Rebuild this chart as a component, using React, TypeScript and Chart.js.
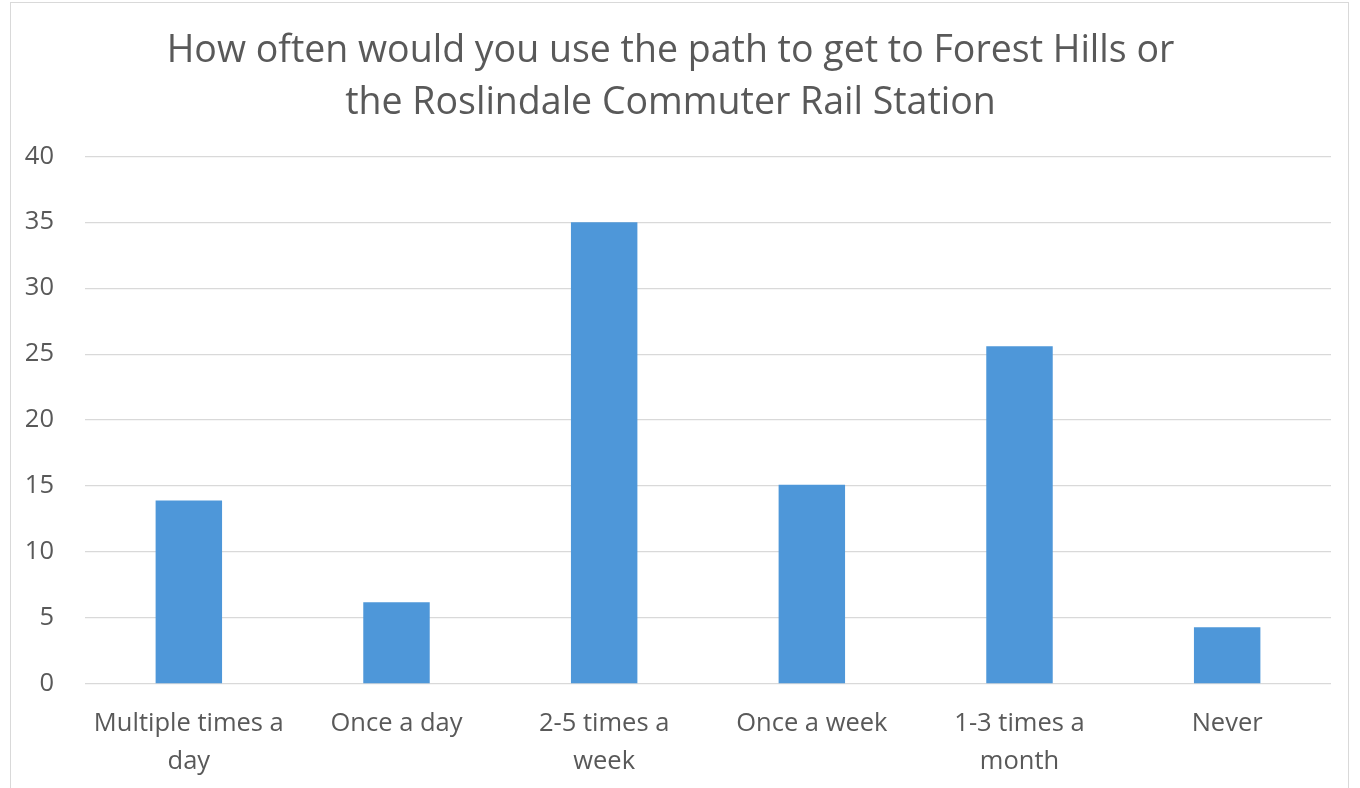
import React, { useEffect, useRef } from "react";
import { Chart, registerables } from "chart.js";

Chart.register(...registerables);

const titleLines = [
  "How often would you use the path to get to Forest Hills or",
  "the Roslindale Commuter Rail Station",
];
const categories = [
  ["Multiple times a", "day"],
  "Once a day",
  ["2-5 times a", "week"],
  "Once a week",
  ["1-3 times a", "month"],
  "Never",
];
const responses = [13.9, 6.2, 35, 15.1, 25.6, 4.3];
const yTicks = [0, 5, 10, 15, 20, 25, 30, 35, 40];

const FONT = "'Open Sans', Lato, sans-serif";
const TEXT = "#595959";

export default function App() {
  const ref = useRef<HTMLCanvasElement | null>(null);
  useEffect(() => {
    if (!ref.current) return;
    const chart = new Chart(ref.current, {
      type: "bar",
      data: {
        labels: categories as any,
        datasets: [
          {
            data: responses,
            backgroundColor: "#4e97d9",
            borderWidth: 0,
            barPercentage: 0.64,
            categoryPercentage: 0.5,
          },
        ],
      },
      options: {
        responsive: false,
        animation: false,
        layout: { padding: { left: 10, right: 29, top: 0, bottom: 0 } },
        plugins: {
          legend: { display: false },
          tooltip: { enabled: false },
          title: {
            display: true,
            text: titleLines,
            color: TEXT,
            font: { family: FONT, size: 37.5, weight: "normal", lineHeight: 1.39 },
            padding: { top: 25, bottom: 27 },
          },
        },
        scales: {
          x: {
            grid: { display: false, drawTicks: false },
            border: { display: false },
            ticks: {
              color: TEXT,
              font: { family: FONT, size: 25.5, lineHeight: 1.49 },
              padding: 21,
              maxRotation: 0,
              autoSkip: false,
            },
            afterFit: (s: any) => {
              s.height = 104;
            },
          },
          y: {
            min: 0,
            max: 40,
            afterBuildTicks: (s: any) => {
              s.ticks = yTicks.map((v) => ({ value: v }));
            },
            grid: { color: "#d9d9d9", lineWidth: 1.3, drawTicks: false },
            border: { display: false },
            ticks: {
              color: TEXT,
              font: { family: FONT, size: 25.5 },
              padding: 31,
            },
            afterFit: (s: any) => {
              s.width = 75;
            },
          },
        },
      },
    });
    return () => chart.destroy();
  }, []);

  return (
    <div
      style={{
        position: "fixed",
        left: 0,
        top: 0,
        width: 1360,
        height: 788,
        background: "#fff",
        overflow: "hidden",
      }}
    >
      <div
        style={{
          position: "absolute",
          left: 10,
          top: 2,
          width: 1339,
          height: 800,
          border: "1px solid #d9d9d9",
          boxSizing: "border-box",
        }}
      />
      <canvas
        ref={ref}
        width={1360}
        height={788}
        style={{ position: "absolute", left: 0, top: 0 }}
      />
    </div>
  );
}
